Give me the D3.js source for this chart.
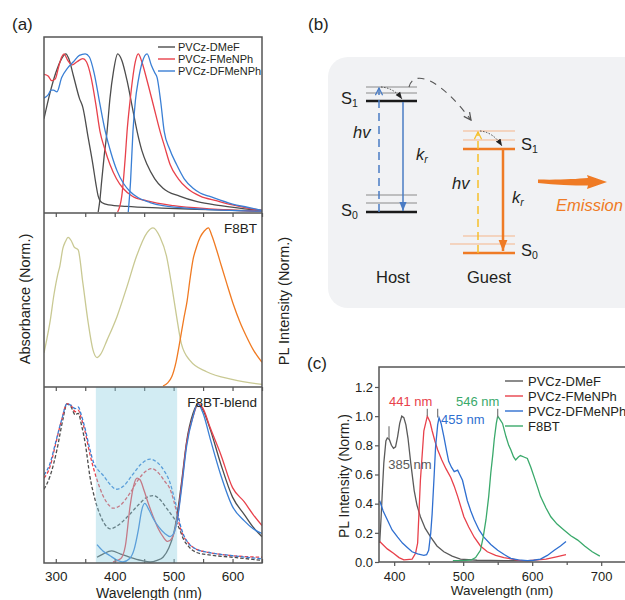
<!DOCTYPE html>
<html><head><meta charset="utf-8">
<script src="https://cdn.jsdelivr.net/npm/d3@7/dist/d3.min.js"></script>
<style>body{margin:0;background:#fff}svg{display:block;font-family:"Liberation Sans",Arial,sans-serif}</style>
</head><body><svg id="fig" width="625" height="600"></svg>
<script>
// ---------- DATA (a) top: PVCz hosts absorption + PL ----------
const seriesNames = ["PVCz-DMeF","PVCz-FMeNPh","PVCz-DFMeNPh"];
const absDMeF = [[280,0.59],[290,0.75],[300,0.88],[310,0.97],[317,1.0],[322,0.97],[330,0.86],[340,0.72],[346,0.66],[355,0.47],[363,0.3],[368,0.18],[372,0.1],[378,0.06],[390,0.045],[420,0.035],[480,0.025],[560,0.015],[650,0.005]];
const absFMeNPh = [[280,0.87],[287,0.86],[293,0.83],[299,0.84],[305,0.92],[310,0.98],[314,1.0],[320,0.96],[328,0.93],[336,0.95],[346,0.97],[352,0.95],[360,0.85],[368,0.68],[375,0.51],[383,0.4],[392,0.3],[403,0.21],[414,0.15],[430,0.1],[455,0.07],[500,0.04],[560,0.02],[650,0.005]];
const absDFMeNPh = [[280,0.72],[287,0.74],[292,0.77],[296,0.77],[302,0.76],[310,0.85],[320,0.91],[330,0.95],[340,0.99],[350,1.0],[357,0.98],[365,0.88],[375,0.68],[384,0.51],[394,0.37],[404,0.26],[415,0.18],[426,0.13],[440,0.09],[460,0.06],[482,0.04],[540,0.02],[650,0.005]];
const plDMeF = [[372,0],[375,0.08],[378,0.2],[382,0.35],[387,0.51],[392,0.72],[398,0.89],[405,1.0],[412,0.96],[421,0.83],[430,0.66],[438,0.51],[446,0.39],[455,0.3],[468,0.21],[482,0.15],[510,0.1],[540,0.065],[580,0.04],[620,0.02],[650,0.01]];
const plFMeNPh = [[405,0],[412,0.1],[418,0.35],[421,0.51],[426,0.7],[430,0.83],[435,0.95],[440,1.0],[446,0.95],[455,0.83],[466,0.67],[477,0.51],[485,0.41],[494,0.3],[508,0.21],[523,0.15],[545,0.1],[574,0.07],[600,0.045],[625,0.025],[650,0.01]];
const plDFMeNPh = [[423,0],[427,0.2],[431,0.51],[435,0.7],[440,0.83],[447,0.95],[455,1.0],[462,0.93],[468,0.88],[472,0.85],[478,0.7],[484,0.51],[493,0.4],[505,0.3],[518,0.21],[533,0.15],[545,0.12],[560,0.1],[600,0.05],[625,0.03],[650,0.01]];

// ---------- DATA (a) middle: F8BT ----------
const absF8BT = [[280,0.21],[285,0.3],[290,0.4],[297,0.58],[303,0.7],[307,0.76],[312,0.87],[316,0.91],[321,0.94],[326,0.92],[331,0.88],[338,0.86],[346,0.65],[355,0.4],[363,0.23],[370,0.18],[376,0.2],[387,0.29],[404,0.44],[421,0.63],[437,0.82],[455,0.97],[465,1.0],[477,0.94],[488,0.82],[497,0.63],[505,0.44],[513,0.27],[528,0.16],[556,0.09],[601,0.04],[650,0.01]];
const plF8BT = [[482,0],[490,0.02],[497,0.06],[504,0.15],[511,0.29],[517,0.42],[523,0.54],[528,0.68],[533,0.8],[539,0.88],[545,0.94],[552,0.98],[559,1.0],[565,0.95],[573,0.86],[581,0.76],[590,0.65],[601,0.52],[613,0.4],[624,0.31],[635,0.23],[650,0.15]];

// ---------- DATA (a) bottom: F8BT blends ----------
const absBlendDMeF = [[280,0.46],[290,0.54],[302,0.71],[312,0.9],[319,1.0],[326,0.98],[333,0.93],[338,0.94],[344,0.86],[350,0.75],[358,0.54],[367,0.39],[375,0.3],[383,0.24],[392,0.21],[405,0.23],[420,0.28],[440,0.36],[455,0.41],[466,0.42],[478,0.39],[486,0.35],[494,0.31],[500,0.28],[506,0.24],[511,0.2],[516,0.15],[525,0.1],[539,0.06],[560,0.045],[600,0.03],[650,0.01]];
const absBlendFMeNPh = [[280,0.53],[290,0.6],[300,0.75],[310,0.9],[319,1.0],[326,0.99],[333,0.95],[338,0.96],[344,0.9],[350,0.82],[358,0.68],[365,0.58],[370,0.52],[380,0.42],[390,0.36],[397,0.34],[410,0.36],[425,0.43],[440,0.52],[455,0.58],[463,0.59],[475,0.56],[485,0.51],[494,0.46],[500,0.39],[506,0.3],[511,0.22],[516,0.17],[525,0.12],[539,0.08],[560,0.06],[600,0.04],[650,0.03]];
const absBlendDFMeNPh = [[280,0.55],[290,0.62],[300,0.76],[310,0.9],[319,1.0],[326,0.99],[333,0.97],[338,0.98],[344,0.92],[350,0.84],[358,0.71],[365,0.62],[370,0.59],[380,0.55],[390,0.5],[403,0.46],[415,0.48],[430,0.55],[445,0.62],[460,0.65],[472,0.63],[485,0.57],[494,0.5],[500,0.42],[506,0.33],[511,0.24],[516,0.18],[525,0.12],[539,0.08],[560,0.06],[600,0.04],[650,0.02]];
const plBlendDMeF = [[370,0.03],[380,0.05],[395,0.07],[410,0.05],[426,0.03],[445,0.01],[460,0.0],[472,0.01],[482,0.03],[492,0.09],[500,0.18],[506,0.3],[514,0.52],[522,0.76],[533,0.94],[541,1.0],[550,0.96],[562,0.84],[580,0.62],[600,0.41],[620,0.3],[635,0.22],[650,0.16]];
const plBlendFMeNPh = [[397,0],[410,0.02],[418,0.1],[426,0.35],[432,0.48],[438,0.53],[443,0.52],[450,0.45],[458,0.36],[465,0.29],[474,0.21],[482,0.16],[490,0.13],[497,0.15],[506,0.27],[514,0.5],[522,0.75],[533,0.92],[542,1.0],[550,0.97],[562,0.85],[580,0.68],[600,0.47],[620,0.38],[635,0.3],[650,0.23]];
const plBlendDFMeNPh = [[370,0.11],[380,0.07],[392,0.04],[405,0.01],[414,0.0],[425,0.02],[433,0.08],[440,0.2],[446,0.33],[451,0.37],[458,0.33],[466,0.27],[475,0.22],[485,0.18],[494,0.16],[500,0.18],[506,0.26],[514,0.48],[522,0.73],[533,0.92],[541,1.0],[550,0.94],[562,0.78],[580,0.55],[600,0.35],[620,0.26],[635,0.21],[650,0.18]];
const shadeRange = [368, 506];
const panelTitles = ["", "F8BT", "F8BT-blend"];
const xTicksA = [300, 400, 500, 600];
const xMinorA = [300, 350, 400, 450, 500, 550, 600, 650];

// ---------- DATA (c): PL spectra ----------
const seriesNamesC = ["PVCz-DMeF","PVCz-FMeNPh","PVCz-DFMeNPh","F8BT"];
const pcDMeF = [[379,0.13],[381,0.3],[383,0.5],[385,0.68],[388,0.83],[390,0.85],[393,0.84],[396,0.8],[399,0.78],[402,0.79],[405,0.86],[408,0.95],[411,1.0],[414,0.99],[417,0.94],[420,0.85],[424,0.68],[429,0.49],[433,0.39],[438,0.31],[445,0.23],[453,0.17],[462,0.11],[472,0.07],[484,0.04],[496,0.02],[520,0.012],[560,0.01],[600,0.01]];
const pcFMeNPh = [[379,0.14],[390,0.09],[399,0.06],[407,0.03],[414,0.015],[426,0.02],[431,0.06],[434,0.13],[438,0.56],[443,0.9],[448,1.0],[452,0.96],[455,0.9],[459,0.83],[463,0.77],[469,0.7],[475,0.64],[482,0.58],[487,0.52],[492,0.45],[501,0.31],[508,0.24],[516,0.17],[525,0.11],[535,0.07],[547,0.045],[559,0.03],[571,0.02],[583,0.01],[595,0.01],[608,0.015],[620,0.02],[635,0.035],[649,0.05]];
const pcDFMeNPh = [[379,0.42],[384,0.35],[390,0.29],[397,0.22],[405,0.17],[412,0.13],[419,0.1],[426,0.07],[434,0.055],[443,0.045],[447,0.05],[450,0.08],[453,0.2],[455,0.33],[458,0.6],[460,0.79],[463,0.94],[465,0.99],[468,0.95],[472,0.86],[476,0.76],[479,0.69],[483,0.65],[487,0.62],[492,0.63],[495,0.6],[499,0.56],[503,0.48],[506,0.42],[511,0.35],[516,0.29],[523,0.22],[530,0.17],[540,0.12],[550,0.08],[560,0.05],[569,0.025],[580,0.015],[593,0.01],[602,0.012],[612,0.02],[622,0.045],[632,0.08],[641,0.11],[649,0.14]];
const pcF8BT = [[485,0.01],[500,0.01],[512,0.015],[518,0.03],[525,0.08],[529,0.17],[533,0.29],[537,0.45],[540,0.61],[543,0.74],[545,0.84],[548,0.95],[550,1.0],[553,0.98],[557,0.95],[562,0.86],[566,0.8],[569,0.77],[573,0.72],[576,0.7],[580,0.72],[583,0.73],[588,0.72],[593,0.71],[598,0.65],[603,0.58],[608,0.51],[612,0.45],[620,0.37],[627,0.31],[636,0.26],[646,0.22],[656,0.18],[666,0.15],[676,0.11],[687,0.07],[698,0.04]];
const peakMarks = [[392.5,0.84,0.93],[448,1.0,1.05],[463,0.99,1.05],[550,0.99,1.05]];
const peakLabels = [["441 nm",424,1.07,"middle",1],["546 nm",521,1.07,"middle",3],["455 nm",468,0.945,"start",2],["385 nm",391.5,0.64,"start",0]];
const xTicksC = [400, 500, 600, 700];
const xMinorC = [450, 550, 650];
const yTicksC = [0, 0.2, 0.4, 0.6, 0.8, 1.0, 1.2];

// ---------- STYLE ----------
const cGray = "#4d4d4d", cRed = "#e8414b", cBlue = "#3a7fd5";
const cColorsC = ["#5a5a5a", "#e8414b", "#2f6fd0", "#3aa96b"];
const cAbsF8BT = "#c9c993", cPlF8BT = "#f07a22";
const textCol = "#231f20", frameCol = "#555";

const svg = d3.select("#fig");
svg.append("rect").attr("width",625).attr("height",600).attr("fill","#fff");
const defs = svg.append("defs");

// ================= PANEL (a) =================
const xA = d3.scaleLinear([280,650],[44,262]);
const panels = [{top:37,bottom:213},{top:213,bottom:387},{top:387,bottom:563}];
const yA = panels.map(p => d3.scaleLinear([0,1.1],[p.bottom-1,p.bottom-175]));
panels.forEach((p,i)=>{
  defs.append("clipPath").attr("id","clipA"+i).append("rect")
    .attr("x",xA(280)).attr("y",p.top).attr("width",xA(650)-xA(280)).attr("height",p.bottom-p.top);
});
function drawA(i, data, color, dashed){
  const line = d3.line().x(d=>xA(d[0])).y(d=>yA[i](d[1])).curve(d3.curveMonotoneX);
  svg.append("path").attr("clip-path","url(#clipA"+i+")").datum(data)
    .attr("d",line).attr("fill","none").attr("stroke",color)
    .attr("stroke-width",1.3).attr("stroke-dasharray",dashed?"3.5,2":null);
}
drawA(0, absDMeF, cGray); drawA(0, plDMeF, cGray);
drawA(0, absFMeNPh, cRed); drawA(0, plFMeNPh, cRed);
drawA(0, absDFMeNPh, cBlue); drawA(0, plDFMeNPh, cBlue);
drawA(1, absF8BT, cAbsF8BT); drawA(1, plF8BT, cPlF8BT);
drawA(2, absBlendDMeF, cGray, true);
drawA(2, absBlendFMeNPh, cRed, true);
drawA(2, absBlendDFMeNPh, cBlue, true);
drawA(2, plBlendDMeF, cGray);
drawA(2, plBlendFMeNPh, cRed);
drawA(2, plBlendDFMeNPh, cBlue);

[213, 387].forEach(y=>{
  const g = svg.append("g").attr("transform",`translate(0,${y})`)
    .call(d3.axisBottom(xA).tickValues(xMinorA).tickSize(4).tickFormat(""));
  g.select(".domain").remove();
  g.selectAll("line").attr("stroke",frameCol).attr("stroke-width",1.2);
});
const gxA = svg.append("g").attr("transform","translate(0,563)")
  .call(d3.axisBottom(xA).tickValues(xMinorA).tickSize(-4).tickPadding(8)
    .tickFormat(d => xTicksA.includes(d) ? d : ""));
gxA.select(".domain").remove();
gxA.selectAll("line").attr("stroke",frameCol).attr("stroke-width",1.2);
gxA.selectAll("text").attr("font-size",13.5).attr("fill",textCol).attr("font-family","Liberation Sans, Arial, sans-serif");

// shaded region (translucent overlay)
svg.append("rect").attr("x",xA(shadeRange[0])).attr("y",panels[2].top)
  .attr("width",xA(shadeRange[1])-xA(shadeRange[0])).attr("height",panels[2].bottom-panels[2].top)
  .attr("fill","#8fd0e1").attr("opacity",0.4);

svg.append("rect").attr("x",xA(280)).attr("y",panels[0].top).attr("width",xA(650)-xA(280))
  .attr("height",panels[2].bottom-panels[0].top).attr("fill","none").attr("stroke",frameCol).attr("stroke-width",1.5);
[213,387].forEach(y=> svg.append("line").attr("x1",xA(280)).attr("x2",xA(650)).attr("y1",y).attr("y2",y)
  .attr("stroke",frameCol).attr("stroke-width",1.5));

panelTitles.forEach((t,i)=>{
  if(!t) return;
  svg.append("text").attr("x",257).attr("y",panels[i].top+20).attr("text-anchor","end")
    .attr("font-size",13.5).attr("fill",textCol).text(t);
});
[cGray,cRed,cBlue].forEach((c,i)=>{
  const y = 47 + i*12;
  svg.append("line").attr("x1",158).attr("x2",175).attr("y1",y).attr("y2",y).attr("stroke",c).attr("stroke-width",1.4);
  svg.append("text").attr("x",178).attr("y",y+4).attr("font-size",11).attr("fill",textCol).text(seriesNames[i]);
});
svg.append("text").attr("transform","translate(30,299) rotate(-90)").attr("text-anchor","middle")
  .attr("font-size",14.5).attr("fill",textCol).text("Absorbance (Norm.)");
svg.append("text").attr("transform","translate(289,301) rotate(-90)").attr("text-anchor","middle")
  .attr("font-size",14.5).attr("fill",textCol).text("PL Intensity (Norm.)");
svg.append("text").attr("x",149).attr("y",598).attr("text-anchor","middle")
  .attr("font-size",14).attr("fill",textCol).text("Wavelength (nm)");

[["(a)",12,30],["(b)",308,30],["(c)",307,369]].forEach(([t,x,y])=>{
  svg.append("text").attr("x",x).attr("y",y).attr("font-size",17).attr("fill",textCol).text(t);
});

// ================= PANEL (b) =================
svg.append("rect").attr("x",328).attr("y",57).attr("width",320).attr("height",251).attr("rx",20)
  .attr("fill","#f1f2f4");
function marker(id,color,size,open){
  const m = defs.append("marker").attr("id",id).attr("viewBox","0 0 10 10").attr("refX",open?9:10).attr("refY",5)
    .attr("markerWidth",size).attr("markerHeight",size).attr("orient","auto").attr("markerUnits","userSpaceOnUse");
  if(open) m.append("path").attr("d","M1,1 L9,5 L1,9").attr("fill","none").attr("stroke",color).attr("stroke-width",1.4);
  else m.append("path").attr("d","M0,1 L10,5 L0,9 Z").attr("fill",color);
}
const bBlue = "#4a7cc4", bOrange = "#ef7b25", bYellow = "#f6c02a";
marker("mBlueOpen",bBlue,9,true); marker("mBlue",bBlue,9,false);
marker("mYelOpen",bYellow,9,true); marker("mOr",bOrange,11,false);
marker("mBlk",'#222',7,false); marker("mGrayOpen","#555",9,true);

const gb = svg.append("g");
function lvl(x1,x2,y,col,w){ gb.append("line").attr("x1",x1).attr("x2",x2).attr("y1",y).attr("y2",y).attr("stroke",col).attr("stroke-width",w); }
lvl(366,417,87,"#8a8a8a",1); lvl(366,417,93,"#8a8a8a",1); lvl(366,417,101,"#1a1a1a",2.5);
lvl(366,417,195,"#8a8a8a",1); lvl(366,417,203,"#8a8a8a",1); lvl(366,417,212,"#1a1a1a",2.5);
lvl(463,515,131,"#f5b58a",1); lvl(463,515,140,"#f5b58a",1); lvl(463,515,149,bOrange,2.5);
lvl(463,515,236,"#f5b58a",1); lvl(450,515,244,"#f5b58a",1); lvl(463,515,253,bOrange,2.5);
gb.append("line").attr("x1",379).attr("x2",379).attr("y1",212).attr("y2",88).attr("stroke",bBlue)
  .attr("stroke-width",1.5).attr("stroke-dasharray","8,5").attr("marker-end","url(#mBlueOpen)");
gb.append("line").attr("x1",403).attr("x2",403).attr("y1",102).attr("y2",211).attr("stroke",bBlue)
  .attr("stroke-width",1.5).attr("marker-end","url(#mBlue)");
gb.append("path").attr("d","M381,87 Q394,88 402,99").attr("fill","none").attr("stroke","#444")
  .attr("stroke-width",1).attr("stroke-dasharray","1.5,1.5").attr("marker-end","url(#mBlk)");
gb.append("path").attr("d","M409,87 C413,70 438,76 471,120").attr("fill","none").attr("stroke","#555")
  .attr("stroke-width",1.1).attr("stroke-dasharray","7,6").attr("marker-end","url(#mGrayOpen)");
gb.append("line").attr("x1",478).attr("x2",478).attr("y1",253).attr("y2",132).attr("stroke",bYellow)
  .attr("stroke-width",1.5).attr("stroke-dasharray","8,5").attr("marker-end","url(#mYelOpen)");
gb.append("line").attr("x1",503).attr("x2",503).attr("y1",150).attr("y2",251).attr("stroke",bOrange)
  .attr("stroke-width",2.5).attr("marker-end","url(#mOr)");
gb.append("path").attr("d","M480,131 Q493,132 502,146").attr("fill","none").attr("stroke","#444")
  .attr("stroke-width",1).attr("stroke-dasharray","1.5,1.5").attr("marker-end","url(#mBlk)");
gb.append("path").attr("d","M538,179.5 C560,180 575,179 588,178 L587,175 L607,182 L587,189 L588,185.5 C572,185.5 556,185 538,183 Z")
  .attr("fill",bOrange);
function sLabel(x,y,sub){
  const t = gb.append("text").attr("x",x).attr("y",y).attr("font-size",16.5).attr("fill",textCol);
  t.append("tspan").text("S");
  t.append("tspan").attr("font-size",10.5).attr("dy",3).text(sub);
}
sLabel(341,104,"1"); sLabel(341,216,"0"); sLabel(521,150,"1"); sLabel(521,256,"0");
function italic(x,y,txt,col){ return gb.append("text").attr("x",x).attr("y",y).attr("font-size",16.5).attr("font-style","italic").attr("fill",col||textCol).text(txt); }
italic(353,138,"hv"); italic(452,189,"hv");
function kr(x,y){
  const t = gb.append("text").attr("x",x).attr("y",y).attr("font-size",16.5).attr("font-style","italic").attr("fill",textCol);
  t.append("tspan").text("k"); t.append("tspan").attr("font-size",10.5).attr("dy",3).text("r");
}
kr(416,160); kr(512,203);
italic(556,211,"Emission",bOrange);
gb.append("text").attr("x",393).attr("y",283).attr("text-anchor","middle").attr("font-size",16.5).attr("fill",textCol).text("Host");
gb.append("text").attr("x",489).attr("y",283).attr("text-anchor","middle").attr("font-size",16.5).attr("fill",textCol).text("Guest");

// ================= PANEL (c) =================
const xC = d3.scaleLinear([378,750],[379,635.7]);
const yC = d3.scaleLinear([0,1.337],[562,367]);
defs.append("clipPath").attr("id","clipC").append("rect").attr("x",379).attr("y",367).attr("width",260).attr("height",195);
const lineC = d3.line().x(d=>xC(d[0])).y(d=>yC(d[1]));
[pcDMeF,pcFMeNPh,pcDFMeNPh,pcF8BT].forEach((data,i)=>{
  svg.append("path").datum(data).attr("clip-path","url(#clipC)").attr("d",lineC)
    .attr("fill","none").attr("stroke",cColorsC[i]).attr("stroke-width",1.3);
});
peakMarks.forEach(([x,y1,y2])=>{
  svg.append("line").attr("x1",xC(x)).attr("x2",xC(x)).attr("y1",yC(y1)).attr("y2",yC(y2))
    .attr("stroke","#7a7a7a").attr("stroke-width",1.2);
});
peakLabels.forEach(([t,x,y,anchor,ci])=>{
  svg.append("text").attr("x",xC(x)).attr("y",yC(y)).attr("text-anchor",anchor)
    .attr("font-size",13).attr("fill",cColorsC[ci]).text(t);
});
const gxC = svg.append("g").attr("transform","translate(0,562)")
  .call(d3.axisBottom(xC).tickValues(xTicksC).tickSize(4).tickPadding(6));
gxC.select(".domain").remove();
const gxCm = svg.append("g").attr("transform","translate(0,562)")
  .call(d3.axisBottom(xC).tickValues(xMinorC).tickSize(3).tickFormat(""));
gxCm.select(".domain").remove();
const gyC = svg.append("g").attr("transform","translate(379,0)")
  .call(d3.axisLeft(yC).tickValues(yTicksC).tickSize(4).tickPadding(2).tickFormat(d3.format(".1f")));
gyC.select(".domain").remove();
[gxC,gxCm,gyC].forEach(g=>{
  g.selectAll("line").attr("stroke",frameCol).attr("stroke-width",1.2);
  g.selectAll("text").attr("font-size",13).attr("fill",textCol).attr("font-family","Liberation Sans, Arial, sans-serif");
});
svg.append("rect").attr("x",379).attr("y",367).attr("width",xC(750)-379).attr("height",195)
  .attr("fill","none").attr("stroke",frameCol).attr("stroke-width",1.5);
cColorsC.forEach((c,i)=>{
  const y = 381 + i*15;
  svg.append("line").attr("x1",505).attr("x2",523).attr("y1",y).attr("y2",y).attr("stroke",c).attr("stroke-width",1.4);
  svg.append("text").attr("x",528).attr("y",y+4.5).attr("font-size",13).attr("fill",textCol).text(seriesNamesC[i]);
});
svg.append("text").attr("transform","translate(349,476) rotate(-90)").attr("text-anchor","middle")
  .attr("font-size",14).attr("fill",textCol).text("PL Intensity (Norm.)");
svg.append("text").attr("x",502).attr("y",595).attr("text-anchor","middle")
  .attr("font-size",13.5).attr("fill",textCol).text("Wavelength (nm)");
</script></body></html>
